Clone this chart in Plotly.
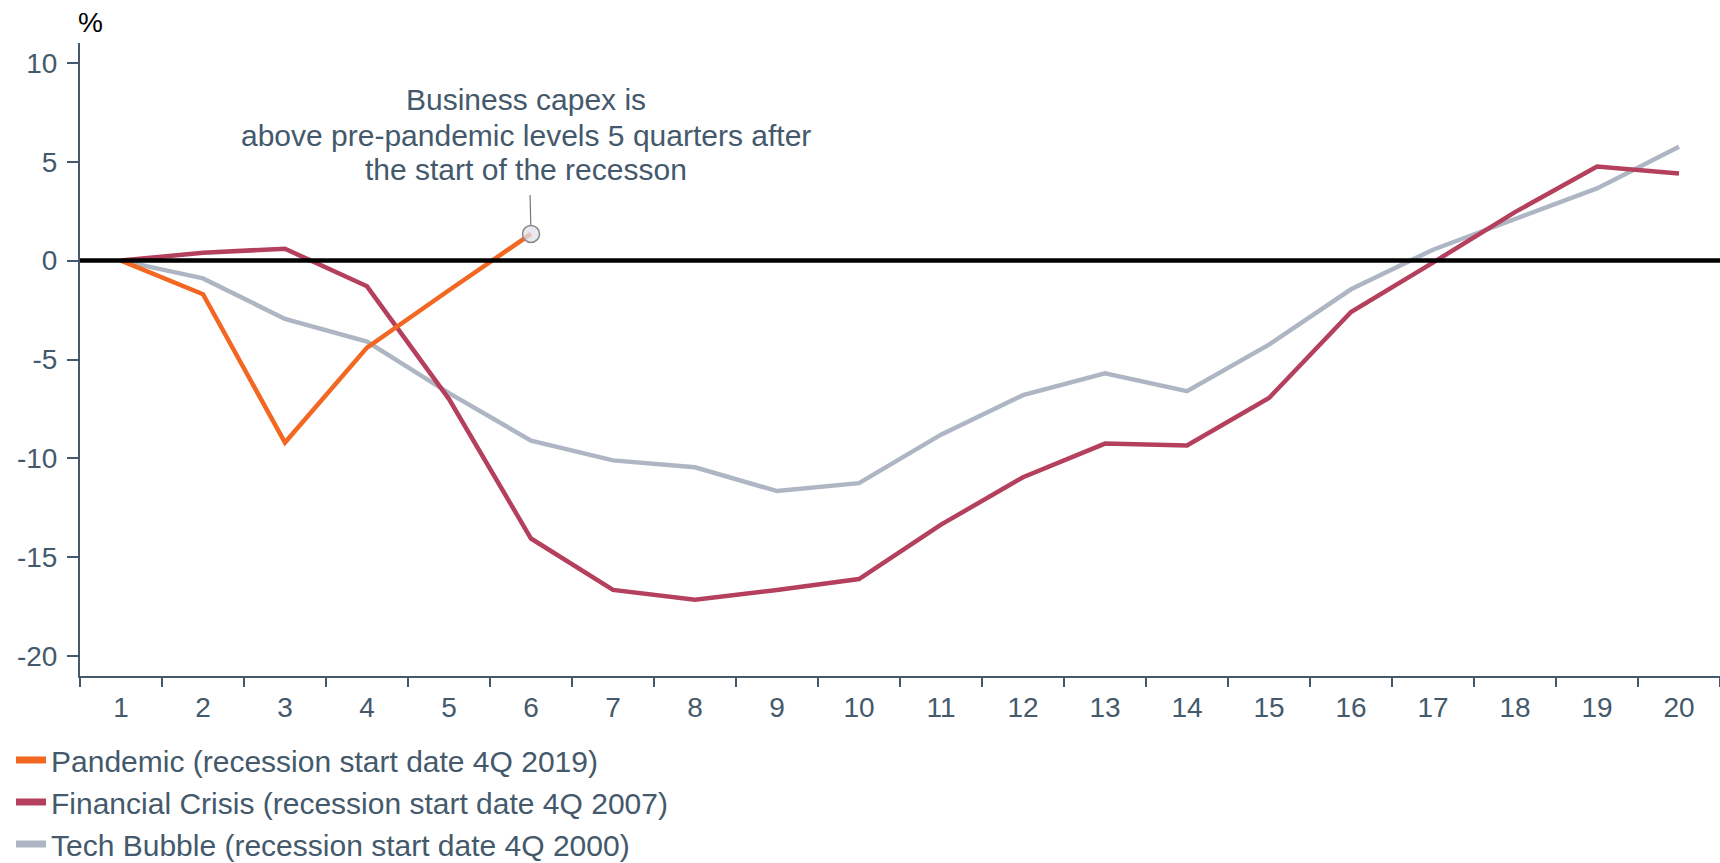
import plotly.graph_objects as go

quarters = [str(i) for i in range(1, 21)]
pandemic = [0, -1.7, -9.2, -4.4, -1.5, 1.35]
financial = [0, 0.4, 0.6, -1.3, -7.0, -14.05, -16.65, -17.15, -16.65, -16.1,
             -13.35, -10.95, -9.25, -9.35, -6.95, -2.6, -0.1, 2.45, 4.75, 4.4]
tech = [0, -0.9, -2.95, -4.1, -6.7, -9.1, -10.1, -10.45, -11.65, -11.25,
        -8.8, -6.8, -5.7, -6.6, -4.25, -1.45, 0.55, 2.1, 3.65, 5.75]
ytickvals = [-20, -15, -10, -5, 0, 5, 10]
yticktext = ["-20", "-15", "-10", "-5", "0", "5", "10"]

names = ["Pandemic (recession start date 4Q 2019)",
         "Financial Crisis (recession start date 4Q 2007)",
         "Tech Bubble (recession start date 4Q 2000)"]
colors = ["#f26722", "#b5405e", "#aeb6c3"]
note_lines = ["Business capex is",
              "above pre-pandemic levels 5 quarters after",
              "the start of the recesson"]

TXT = "#44596b"
FONT = "Liberation Sans, Arial, sans-serif"
W, H = 1720, 863
LEFT = 80
LW = 4.5

fig = go.Figure()
fig.add_trace(go.Scatter(x=quarters, y=tech, name=names[2], mode="lines",
                         line=dict(color=colors[2], width=LW), showlegend=False))
fig.add_trace(go.Scatter(x=quarters, y=financial, name=names[1], mode="lines",
                         line=dict(color=colors[1], width=LW), showlegend=False))
fig.add_trace(go.Scatter(x=quarters[:len(pandemic)], y=pandemic, name=names[0], mode="lines",
                         line=dict(color=colors[0], width=LW), showlegend=False))
# legend entries (thick short bars like the reference)
for nm, col in zip(names, colors):
    fig.add_trace(go.Scatter(x=[None], y=[None], name=nm, mode="lines",
                             line=dict(color=col, width=7), showlegend=True))

fig.add_trace(go.Scatter(x=[quarters[len(pandemic) - 1]], y=[pandemic[-1]], mode="markers",
                         marker=dict(size=17, color="rgba(225,225,238,0.75)",
                                     line=dict(color="#8a8a8a", width=1.5)),
                         showlegend=False, hoverinfo="skip"))

fig.add_hline(y=0, line=dict(color="black", width=4.5), layer="above")

# annotations on a category axis take the category index
pidx, py = len(pandemic) - 1, pandemic[-1]
fig.add_annotation(x=pidx, y=py, text=" ", font=dict(size=1),
                   showarrow=True, arrowhead=0, arrowwidth=1.2, arrowcolor="#777777",
                   ax=-1, ay=-41, standoff=9)
for line_txt, ys in zip(note_lines, [134, 98, 64]):
    fig.add_annotation(x=pidx, y=py, text=line_txt, showarrow=False,
                       xanchor="center", yanchor="middle", xshift=-5, yshift=ys,
                       font=dict(size=30, color=TXT, family=FONT))
fig.add_annotation(xref="paper", yref="paper", x=LEFT / W, y=1.0, yshift=21, xshift=10,
                   text="%", showarrow=False, xanchor="center", yanchor="middle",
                   font=dict(size=28, color="black", family=FONT))

fig.update_layout(
    width=W, height=H,
    margin=dict(l=0, r=0, t=43, b=187, autoexpand=False),
    paper_bgcolor="white", plot_bgcolor="white",
    font=dict(family=FONT, size=28, color=TXT),
    showlegend=True,
    legend=dict(orientation="v", x=11 / W, y=-0.0916, xanchor="left", yanchor="top",
                font=dict(size=30, color=TXT, family=FONT),
                bgcolor="rgba(0,0,0,0)", traceorder="normal"),
    xaxis=dict(type="category", range=[-0.5, 19.5], showgrid=False,
               domain=[LEFT / W, 1], automargin=False,
               showline=True, linecolor=TXT, linewidth=2,
               ticks="outside", ticklen=9, tickcolor=TXT, tickwidth=1.5,
               ticklabelstandoff=5,
               tickson="boundaries", tickfont=dict(size=28, color=TXT)),
    yaxis=dict(range=[-21, 11], tickvals=ytickvals, ticktext=yticktext,
               showgrid=False, zeroline=False, automargin=False,
               showline=True, linecolor=TXT, linewidth=2,
               ticks="outside", ticklen=11, tickcolor=TXT, tickwidth=1.5,
               ticklabelstandoff=4,
               tickfont=dict(size=28, color=TXT)),
)

fig.write_html("out.html")
